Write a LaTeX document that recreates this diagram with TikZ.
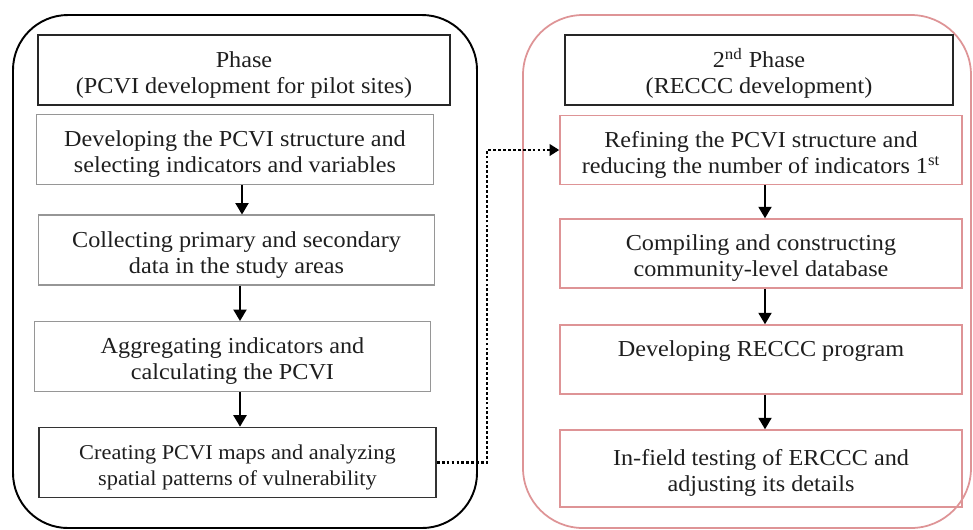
\documentclass[tikz,border=0pt]{standalone}
\usepackage{fontspec}
\setmainfont{Liberation Serif}[FakeStretch=1.06]
\usetikzlibrary{arrows.meta}
\definecolor{phasepink}{RGB}{222,148,150}
\definecolor{boxgray}{RGB}{150,150,150}
\definecolor{inkgray}{RGB}{30,30,30}
% box text sits a little below the middle
\newcommand{\lowtext}[1]{\raisebox{-0.1cm}[\height][\depth]{\begin{tabular}{@{}c@{}}#1\end{tabular}}}
\tikzset{
  hdrbox/.style={draw=black!85,line width=1.1pt,minimum height=1.4cm,inner sep=0pt,align=center,text=inkgray},
  graybox/.style={draw=boxgray,line width=0.6pt,minimum width=7.94cm,minimum height=1.4cm,inner sep=0pt,align=center,text=inkgray},
  pinkbox/.style={draw=phasepink,line width=0.9pt,minimum width=8.04cm,minimum height=1.38cm,inner sep=0pt,align=center,text=inkgray},
  arr/.style={line width=0.8pt,-{Triangle[width=7.5pt,length=6.5pt]}}
}
\begin{document}
\begin{tikzpicture}[x=0.02cm,y=-0.02cm,font=\fontsize{13}{15}\selectfont]
	    \useasboundingbox (0,0) rectangle (973,529);
	    % the two phase frames
	    \draw[line width=1.1pt,rounded corners=1.1cm] (13,15) rectangle (477,528);
	    \draw[phasepink,line width=1pt,rounded corners=1.2cm] (523,15) rectangle (971,528);
	    % first phase
	    \node[hdrbox,minimum width=8.24cm] (hdrA) at (244,70) {\lowtext{Phase\\(PCVI development for pilot sites)}};
	    \node[graybox] (a1) at (235,149.5) {\lowtext{Developing the PCVI structure and\\selecting indicators and variables}};
	    \node[graybox] (a2) at (236.5,250) {\lowtext{Collecting primary and secondary\\data in the study areas}};
	    \node[graybox] (a3) at (232.5,356.5) {\lowtext{Aggregating indicators and\\calculating the PCVI}};
	    \node[graybox,draw=black!80,line width=1pt,font=\fontsize{12}{14.5}\selectfont] (a4) at (237.5,462.5) {\lowtext{Creating PCVI maps and analyzing\\spatial patterns of vulnerability}};
	    % second phase
	    \node[hdrbox,minimum width=7.76cm] (hdrB) at (759,70) {\lowtext{2\textsuperscript{nd} Phase\\(RECCC development)}};
	    \node[pinkbox] (b1) at (761,150) {\lowtext{Refining the PCVI structure and\\reducing the number of indicators 1\textsuperscript{st}}};
	    \node[pinkbox] (b2) at (761,253.5) {\lowtext{Compiling and constructing\\community-level database}};
	    \node[pinkbox] (b3) at (761,359.5) {\lowtext{Developing RECCC program\\\mbox{}}};
	    \node[pinkbox,minimum height=1.54cm] (b4) at (761,468.5) {\lowtext{In-field testing of ERCCC and\\adjusting its details}};
	    % arrows
	    \draw[arr] ([xshift=0.14cm]a1.south) -- ([xshift=0.14cm]a1.south |- a2.north);
	    \draw[arr] ([xshift=0.07cm]a2.south) -- ([xshift=0.07cm]a2.south |- a3.north);
	    \draw[arr] ([xshift=0.15cm]a3.south) -- ([xshift=0.15cm]a3.south |- a4.north);
	    \draw[arr] ([xshift=0.08cm]b1.south) -- ([xshift=0.08cm]b1.south |- b2.north);
	    \draw[arr] ([xshift=0.08cm]b2.south) -- ([xshift=0.08cm]b2.south |- b3.north);
	    \draw[arr] ([xshift=0.08cm]b3.south) -- ([xshift=0.08cm]b3.south |- b4.north);
	    % dotted link between phases
	    \coordinate (turn) at (487,150);
	    \draw[line width=1.6pt,dash pattern=on 1.6pt off 1.2pt,-{Triangle[width=6.5pt,length=5.5pt]}] (a4.east) -| (turn) -- (b1.west);
	\end{tikzpicture}
\end{document}
